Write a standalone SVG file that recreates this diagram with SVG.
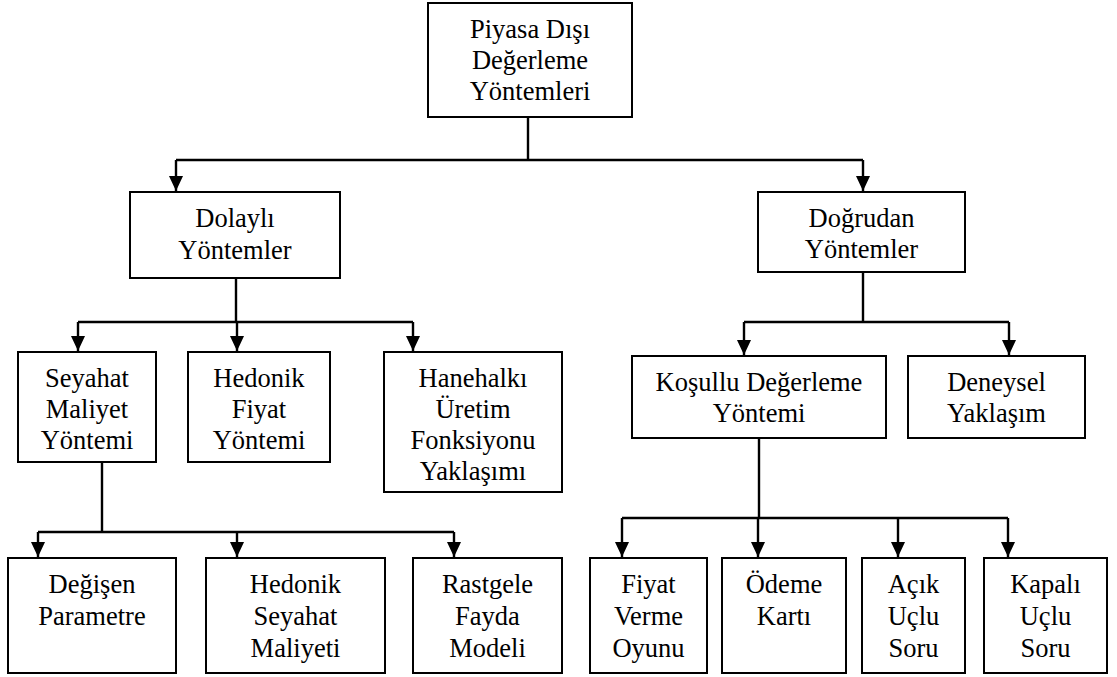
<svg xmlns="http://www.w3.org/2000/svg" width="1117" height="677" viewBox="0 0 1117 677" font-family="Liberation Serif, serif">
<style>
.box{fill:#fff;stroke:#000;stroke-width:2}
.t{font-family:'Liberation Serif',serif;font-size:26.5px;fill:#000;text-anchor:middle}
.c{fill:none;stroke:#000;stroke-width:2.4}
.a{fill:none;stroke:#000;stroke-width:2.4;marker-end:url(#ah)}
</style>
<defs>
<marker id="ah" viewBox="0 0 15 14" refX="15" refY="7" markerWidth="15" markerHeight="14" markerUnits="userSpaceOnUse" orient="auto">
<path d="M0,0 L15,7 L0,14 Z" fill="#000"/>
</marker>
</defs>
<rect width="1117" height="677" fill="#fff"/>
<g id="connectors">
<path class="c" d="M528,117 V160 M176,160 H863"/>
<path class="a" d="M176,160 V191"/>
<path class="a" d="M863,160 V191"/>
<path class="c" d="M236,278 V322 M78,322 H413"/>
<path class="a" d="M78,322 V351"/>
<path class="a" d="M237,322 V351"/>
<path class="a" d="M413,322 V351"/>
<path class="c" d="M863,272 V322 M744,322 H1009"/>
<path class="a" d="M744,322 V355"/>
<path class="a" d="M1009,322 V355"/>
<path class="c" d="M102,462 V532 M38,532 H454"/>
<path class="a" d="M38,532 V557"/>
<path class="a" d="M237,532 V557"/>
<path class="a" d="M454,532 V557"/>
<path class="c" d="M759,438 V518 M622,518 H1008"/>
<path class="a" d="M622,518 V557"/>
<path class="a" d="M758,518 V557"/>
<path class="a" d="M898,518 V557"/>
<path class="a" d="M1008,518 V557"/>
</g>
<g id="n-root"><rect class="box" x="428" y="3" width="204" height="114"/>
<text class="t" x="530" y="38">Piyasa Dışı</text><text class="t" x="530" y="69">Değerleme</text><text class="t" x="530" y="100">Yöntemleri</text></g>
<g id="n-dolayli"><rect class="box" x="130" y="192" width="210" height="86"/>
<text class="t" x="235" y="227">Dolaylı</text><text class="t" x="235" y="259">Yöntemler</text></g>
<g id="n-dogrudan"><rect class="box" x="758" y="192" width="207" height="80"/>
<text class="t" x="861.5" y="227">Doğrudan</text><text class="t" x="861.5" y="258">Yöntemler</text></g>
<g id="n-seyahat"><rect class="box" x="18" y="352" width="138" height="110"/>
<text class="t" x="87" y="387">Seyahat</text><text class="t" x="87" y="418">Maliyet</text><text class="t" x="87" y="449">Yöntemi</text></g>
<g id="n-hedonik"><rect class="box" x="188" y="352" width="142" height="110"/>
<text class="t" x="259" y="387">Hedonik</text><text class="t" x="259" y="418">Fiyat</text><text class="t" x="259" y="449">Yöntemi</text></g>
<g id="n-hanehalki"><rect class="box" x="384" y="352" width="178" height="140"/>
<text class="t" x="473" y="387">Hanehalkı</text><text class="t" x="473" y="418">Üretim</text><text class="t" x="473" y="449">Fonksiyonu</text><text class="t" x="473" y="480">Yaklaşımı</text></g>
<g id="n-kosullu"><rect class="box" x="632" y="356" width="254" height="82"/>
<text class="t" x="759" y="391">Koşullu Değerleme</text><text class="t" x="759" y="422">Yöntemi</text></g>
<g id="n-deneysel"><rect class="box" x="908" y="356" width="177" height="82"/>
<text class="t" x="996.5" y="391">Deneysel</text><text class="t" x="996.5" y="422">Yaklaşım</text></g>
<g id="n-degisen"><rect class="box" x="8" y="558" width="168" height="115"/>
<text class="t" x="92" y="593">Değişen</text><text class="t" x="92" y="625">Parametre</text></g>
<g id="n-hedonik-seyahat"><rect class="box" x="206" y="558" width="179" height="115"/>
<text class="t" x="295.5" y="593">Hedonik</text><text class="t" x="295.5" y="625">Seyahat</text><text class="t" x="295.5" y="657">Maliyeti</text></g>
<g id="n-rastgele"><rect class="box" x="413" y="558" width="149" height="115"/>
<text class="t" x="487.5" y="593">Rastgele</text><text class="t" x="487.5" y="625">Fayda</text><text class="t" x="487.5" y="657">Modeli</text></g>
<g id="n-fiyat"><rect class="box" x="590" y="558" width="117" height="115"/>
<text class="t" x="648.5" y="593">Fiyat</text><text class="t" x="648.5" y="625">Verme</text><text class="t" x="648.5" y="657">Oyunu</text></g>
<g id="n-odeme"><rect class="box" x="722" y="558" width="124" height="115"/>
<text class="t" x="784" y="593">Ödeme</text><text class="t" x="784" y="625">Kartı</text></g>
<g id="n-acik"><rect class="box" x="862" y="558" width="103" height="115"/>
<text class="t" x="913.5" y="593">Açık</text><text class="t" x="913.5" y="625">Uçlu</text><text class="t" x="913.5" y="657">Soru</text></g>
<g id="n-kapali"><rect class="box" x="984" y="558" width="123" height="115"/>
<text class="t" x="1045.5" y="593">Kapalı</text><text class="t" x="1045.5" y="625">Uçlu</text><text class="t" x="1045.5" y="657">Soru</text></g>
</svg>
